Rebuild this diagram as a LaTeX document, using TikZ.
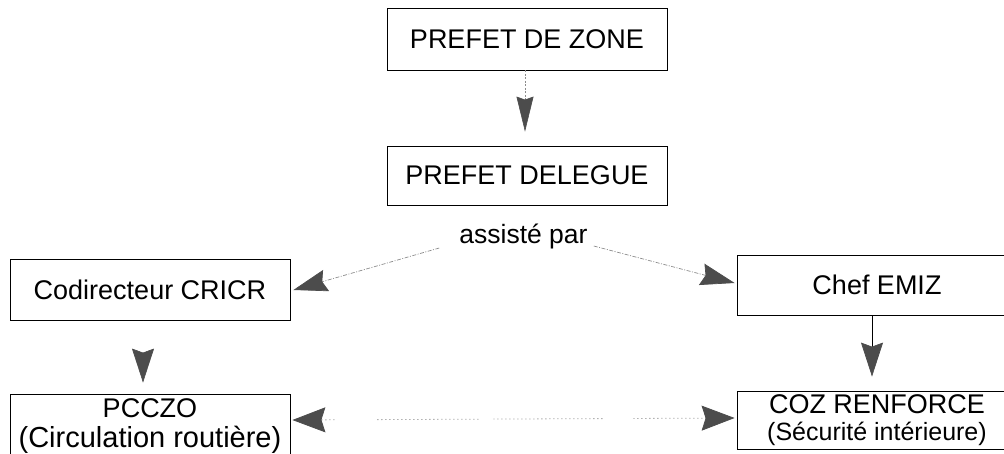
\documentclass[tikz,border=0pt]{standalone}
\usepackage{fontspec}
\setmainfont{Liberation Sans}
\usetikzlibrary{arrows.meta}

\definecolor{headgray}{gray}{0.30}
\definecolor{linegray}{gray}{0.55}

\tikzset{
  box/.style={draw=black, line width=0.8pt, minimum width=280pt, inner sep=0pt,
    align=center, font=\fontsize{27pt}{30pt}\selectfont},
  head/.style={-{Stealth[length=34pt, width=22pt, inset=4pt, color=headgray]}},
  narrowhead/.style={-{Stealth[length=35pt, width=17pt, inset=3pt, color=headgray]}},
  bothheads/.style={{Stealth[length=33pt, width=25pt, inset=4pt, color=headgray]}-{Stealth[length=33pt, width=25pt, inset=4pt, color=headgray]}},
  faint/.style={linegray, line width=0.6pt, dash pattern=on 2pt off 1.5pt},
  assist/.style={linegray, line width=0.7pt, dash pattern=on 4pt off 1.5pt on 1pt off 1.5pt},
}

\begin{document}
\begin{tikzpicture}[x=1pt, y=-1pt]
  \useasboundingbox (0,0) rectangle (1004,453);
  \clip (0,0) rectangle (1004,453);

  % boxes
  \node[box, minimum height=62pt] (zone)  at (527,39)    {PREFET DE ZONE};
  \node[box, minimum height=59pt] (deleg) at (527,175.5) {PREFET DELEGUE};
  \node[box, minimum height=61pt] (codir) at (150,290)   {Codirecteur CRICR};
  \node[box, minimum height=60pt] (chef)  at (877,285)   {Chef EMIZ};
  \node[box, minimum height=63pt] (pcczo) at (150,426)
    {PCCZO\\{\fontsize{29pt}{30pt}\selectfont (Circulation routière)}};
  \node[box, minimum height=58pt, font=\fontsize{27pt}{27pt}\selectfont] (coz) at (877,420)
    {COZ RENFORCE\\{\fontsize{25pt}{27pt}\selectfont (Sécurité intérieure)}};

  % label under the delegate prefect
  \node[anchor=base, inner sep=0pt, font=\fontsize{26.5pt}{30pt}\selectfont] (ap) at (523.5,243) {assisté par};

  % connectors
  \draw[faint, narrowhead, shorten >=14pt] ([xshift=-2pt]zone.south) -- ([xshift=-2pt]deleg.north);
  \draw[assist, head] ([xshift=-20pt, yshift=-5pt]ap.base west) -- ([xshift=3pt]codir.east);
  \draw[assist, head] ([xshift=6pt, yshift=-3pt]ap.base east) -- ([xshift=-2pt, yshift=2pt]chef.west);
  \draw[white, line width=0.6pt, head, shorten >=11.5pt] ([xshift=-7pt]codir.south) -- ([xshift=-7pt]pcczo.north);
  \draw[black, line width=0.7pt, head, shorten >=14pt] ([xshift=-5pt]chef.south) -- ([xshift=-5pt]coz.north);
  % dotted two-way link, with its breaks
  \draw[gray!60, line width=0.8pt, bothheads, dash pattern=on 1.5pt off 2.5pt]
    ([xshift=2pt, yshift=6pt]pcczo.east) -- ([xshift=-2pt, yshift=2pt]coz.west);
  \draw[white, line width=2.5pt, shorten <=33pt, shorten >=33pt,
        dash pattern=on 0pt off 10pt on 40pt off 105pt on 13pt off 110pt on 30pt off 80pt]
    ([xshift=2pt, yshift=6pt]pcczo.east) -- ([xshift=-2pt, yshift=2pt]coz.west);
\end{tikzpicture}
\end{document}
